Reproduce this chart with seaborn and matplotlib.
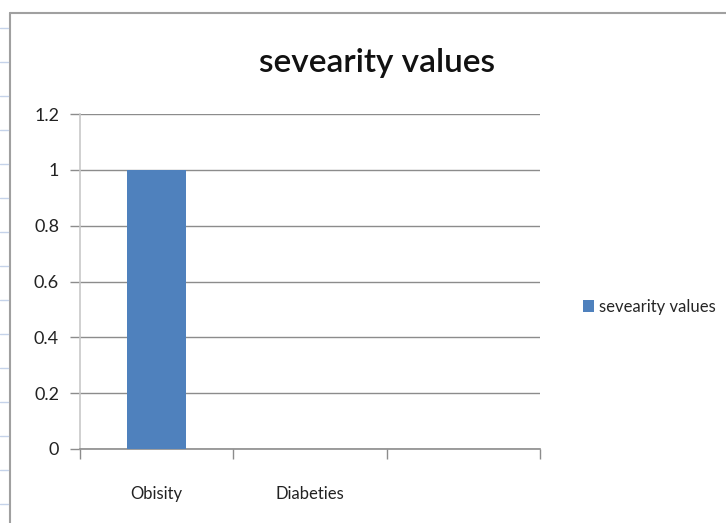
import matplotlib
matplotlib.use("Agg")
import matplotlib.pyplot as plt
from matplotlib.lines import Line2D
import seaborn as sns
import pandas as pd

sns.set_theme(style="white")
plt.rcParams["font.family"] = ["Lato", "DejaVu Sans"]

# data
categories = ["Obisity", "Diabeties", " "]
severity = [1, 0, 0]
series_name = "sevearity values"
y_ticks = [0, 0.2, 0.4, 0.6, 0.8, 1, 1.2]
y_labels = ["0", "0.2", "0.4", "0.6", "0.8", "1", "1.2"]

df = pd.DataFrame({"disease": categories, "value": severity, "series": series_name})

fig = plt.figure(figsize=(7.26, 5.23), dpi=100)
ax = fig.add_axes([0.110, 0.1415, 0.634, 0.6405])

sns.barplot(data=df, x="disease", y="value", hue="series", order=categories,
            palette=["#4f81bd"], saturation=1, width=0.39, linewidth=0,
            ax=ax, zorder=3)

ax.set_ylim(0, 1.2)
ax.set_xlim(-0.5, 2.5)
ax.set_yticks(y_ticks)
ax.set_yticklabels(y_labels)
ax.yaxis.grid(True, color="#8c8c8c", linewidth=1)
ax.set_axisbelow(True)
ax.set_xlabel("")
ax.set_ylabel("")

for side in ["top", "right"]:
    ax.spines[side].set_visible(False)
ax.spines["left"].set_color("#c8c8c8")
ax.spines["left"].set_linewidth(1.2)
ax.spines["bottom"].set_color("#8c8c8c")
ax.spines["bottom"].set_linewidth(1.2)

ax.tick_params(axis="y", which="major", length=7, color="#8c8c8c", width=1,
               labelsize=13, pad=8, left=True)
ax.tick_params(axis="x", which="major", length=0, labelsize=12, pad=27)
ax.set_xticks([-0.5, 0.5, 1.5, 2.5], minor=True)
ax.tick_params(axis="x", which="minor", length=7, color="#8c8c8c", width=1, bottom=True)
for lbl in ax.get_yticklabels() + ax.get_xticklabels():
    lbl.set_color("#222222")

fig.text(0.519, 0.88, "sevearity values", fontsize=24, fontweight="semibold",
         color="#111111", ha="center", va="center")

ax.legend(loc="center left", bbox_to_anchor=(1.06, 0.424), frameon=False,
          fontsize=12, handlelength=0.7, handleheight=0.7, handletextpad=0.3)

# chart frame and spreadsheet edge
fig.add_artist(Line2D([0.0138, 1.0], [0.975, 0.975], color="#a0a0a0", lw=1.5))
fig.add_artist(Line2D([0.0138, 0.0138], [0.0, 0.975], color="#a0a0a0", lw=1.5))
for yy in range(28, 523, 34):
    fig.add_artist(Line2D([0.0, 0.011], [1 - yy / 523, 1 - yy / 523], color="#c5d3ea", lw=1))

fig.savefig("out.png", dpi=100)
